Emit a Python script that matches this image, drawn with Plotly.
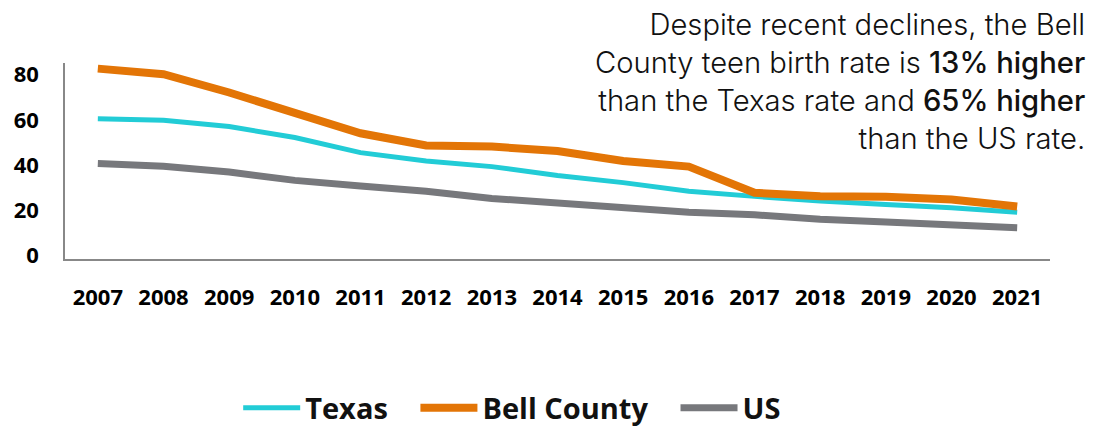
import plotly.graph_objects as go

years = ["2007", "2008", "2009", "2010", "2011", "2012", "2013", "2014",
         "2015", "2016", "2017", "2018", "2019", "2020", "2021"]
texas = [62.3, 61.6, 58.8, 53.9, 47.2, 43.5, 41.0, 37.1, 33.9, 30.1, 27.8, 25.7, 24.2, 22.8, 20.8]
bell = [84.5, 82.0, 73.9, 65.1, 55.8, 50.4, 49.9, 47.9, 43.5, 41.0, 29.4, 27.9, 27.6, 26.4, 23.3]
us = [42.4, 41.2, 38.6, 34.9, 32.4, 30.1, 26.9, 24.7, 22.8, 20.8, 19.6, 17.6, 16.4, 15.3, 13.9]
y_ticks = [0, 20, 40, 60, 80]
series_names = ["Texas", "Bell County", "US"]

TEAL = "#22CCD6"
ORANGE = "#E37506"
GRAY = "#77787C"

NB = "\u00a0"
fig = go.Figure()
fig.add_trace(go.Scatter(x=years, y=texas, name=series_names[0] + NB * 3, mode="lines",
                         line=dict(color=TEAL, width=5)))
fig.add_trace(go.Scatter(x=years, y=bell, name=series_names[1] + NB * 3, mode="lines",
                         line=dict(color=ORANGE, width=8)))
fig.add_trace(go.Scatter(x=years, y=us, name=series_names[2], mode="lines",
                         line=dict(color=GRAY, width=7)))

B = '<span style="font-weight:500">'
fig.add_annotation(
    text="Despite recent declines, the Bell<br>County teen birth rate is " + B + "13% higher</span><br>"
         "than the Texas rate and " + B + "65% higher</span><br>than the US rate.",
    xref="paper", yref="paper", x=1.038, y=1.295, xanchor="right", yanchor="top",
    align="right", showarrow=False,
    font=dict(family="Inter, Noto Sans, sans-serif", size=29.2, color="#111111", weight=300),
)

fig.update_layout(
    width=1102, height=429,
    margin=dict(l=65, r=52, t=63, b=170, autoexpand=False),
    paper_bgcolor="white", plot_bgcolor="white",
    showlegend=True,
    legend=dict(orientation="h", x=0.454, y=-0.76, xanchor="center", yanchor="middle",
                font=dict(family="Open Sans", size=29, color="#111111", weight="bold"),
                itemwidth=57, tracegroupgap=0),
    xaxis=dict(type="category", range=[-0.5, 14.5], showgrid=False, showline=True,
               linecolor="#888888", linewidth=1.5, ticks="", ticklabelstandoff=18,
               tickfont=dict(family="Open Sans", size=22, color="#000000", weight="bold"),
               fixedrange=True),
    yaxis=dict(range=[0, 87], tickvals=y_ticks, showgrid=False, showline=True,
               linecolor="#888888", linewidth=1.5, ticks="", ticklabelstandoff=20,
               ticklabelshift=-4, zeroline=False,
               tickfont=dict(family="Open Sans", size=22, color="#000000", weight="bold"),
               fixedrange=True),
)

fig.write_html("out.html", config={"displayModeBar": False},
               post_script="document.body.style.margin='0';")
